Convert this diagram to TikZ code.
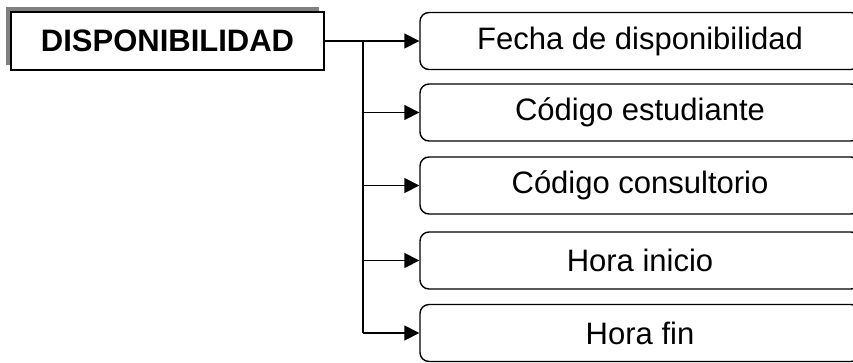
\documentclass[tikz,border=0pt]{standalone}
\usepackage{fontspec}
\setmainfont{Liberation Sans}
\usetikzlibrary{arrows.meta,positioning,shadows}

\begin{document}
\begin{tikzpicture}[
  x=1pt, y=-1pt,
  entity/.style={draw, line width=1.6pt, fill=white, minimum width=313pt, minimum height=58pt,
    inner sep=0pt, font=\fontsize{31}{36}\selectfont\bfseries,
    drop shadow={shadow xshift=-5pt, shadow yshift=5.5pt, fill=gray, opacity=1}},
  field/.style={draw, line width=1.4pt, rounded corners=9pt, fill=white, minimum width=440pt,
    minimum height=57pt, inner sep=0pt, font=\fontsize{31}{36}\selectfont},
  link/.style={line width=1.6pt},
  arr/.style={-{Triangle[length=15pt, width=15pt]}, line width=1.6pt}
]
\useasboundingbox (0,0) rectangle (853,362);

\node[entity] (disp) at (167.5,41) {DISPONIBILIDAD};

\node[field] (fecha) at (640,41) {Fecha de disponibilidad};
\node[field] (estud) at (640,112.5) {Código estudiante};
\node[field] (consul) at (640,185.5) {Código consultorio};
\node[field] (inicio) at (640,260.5) {Hora inicio};
\node[field] (fin) at (640,333) {Hora fin};

\coordinate (jn) at (363,0);

\draw[link] (disp.east) -- (disp.east -| jn);
\draw[link] (fecha.west -| jn) -- (fin.west -| jn);

\draw[arr] (fecha.west -| jn) -- (fecha.west);
\draw[arr] (estud.west -| jn) -- (estud.west);
\draw[arr] (consul.west -| jn) -- (consul.west);
\draw[arr] (inicio.west -| jn) -- (inicio.west);
\draw[arr] (fin.west -| jn) -- (fin.west);
\end{tikzpicture}
\end{document}
